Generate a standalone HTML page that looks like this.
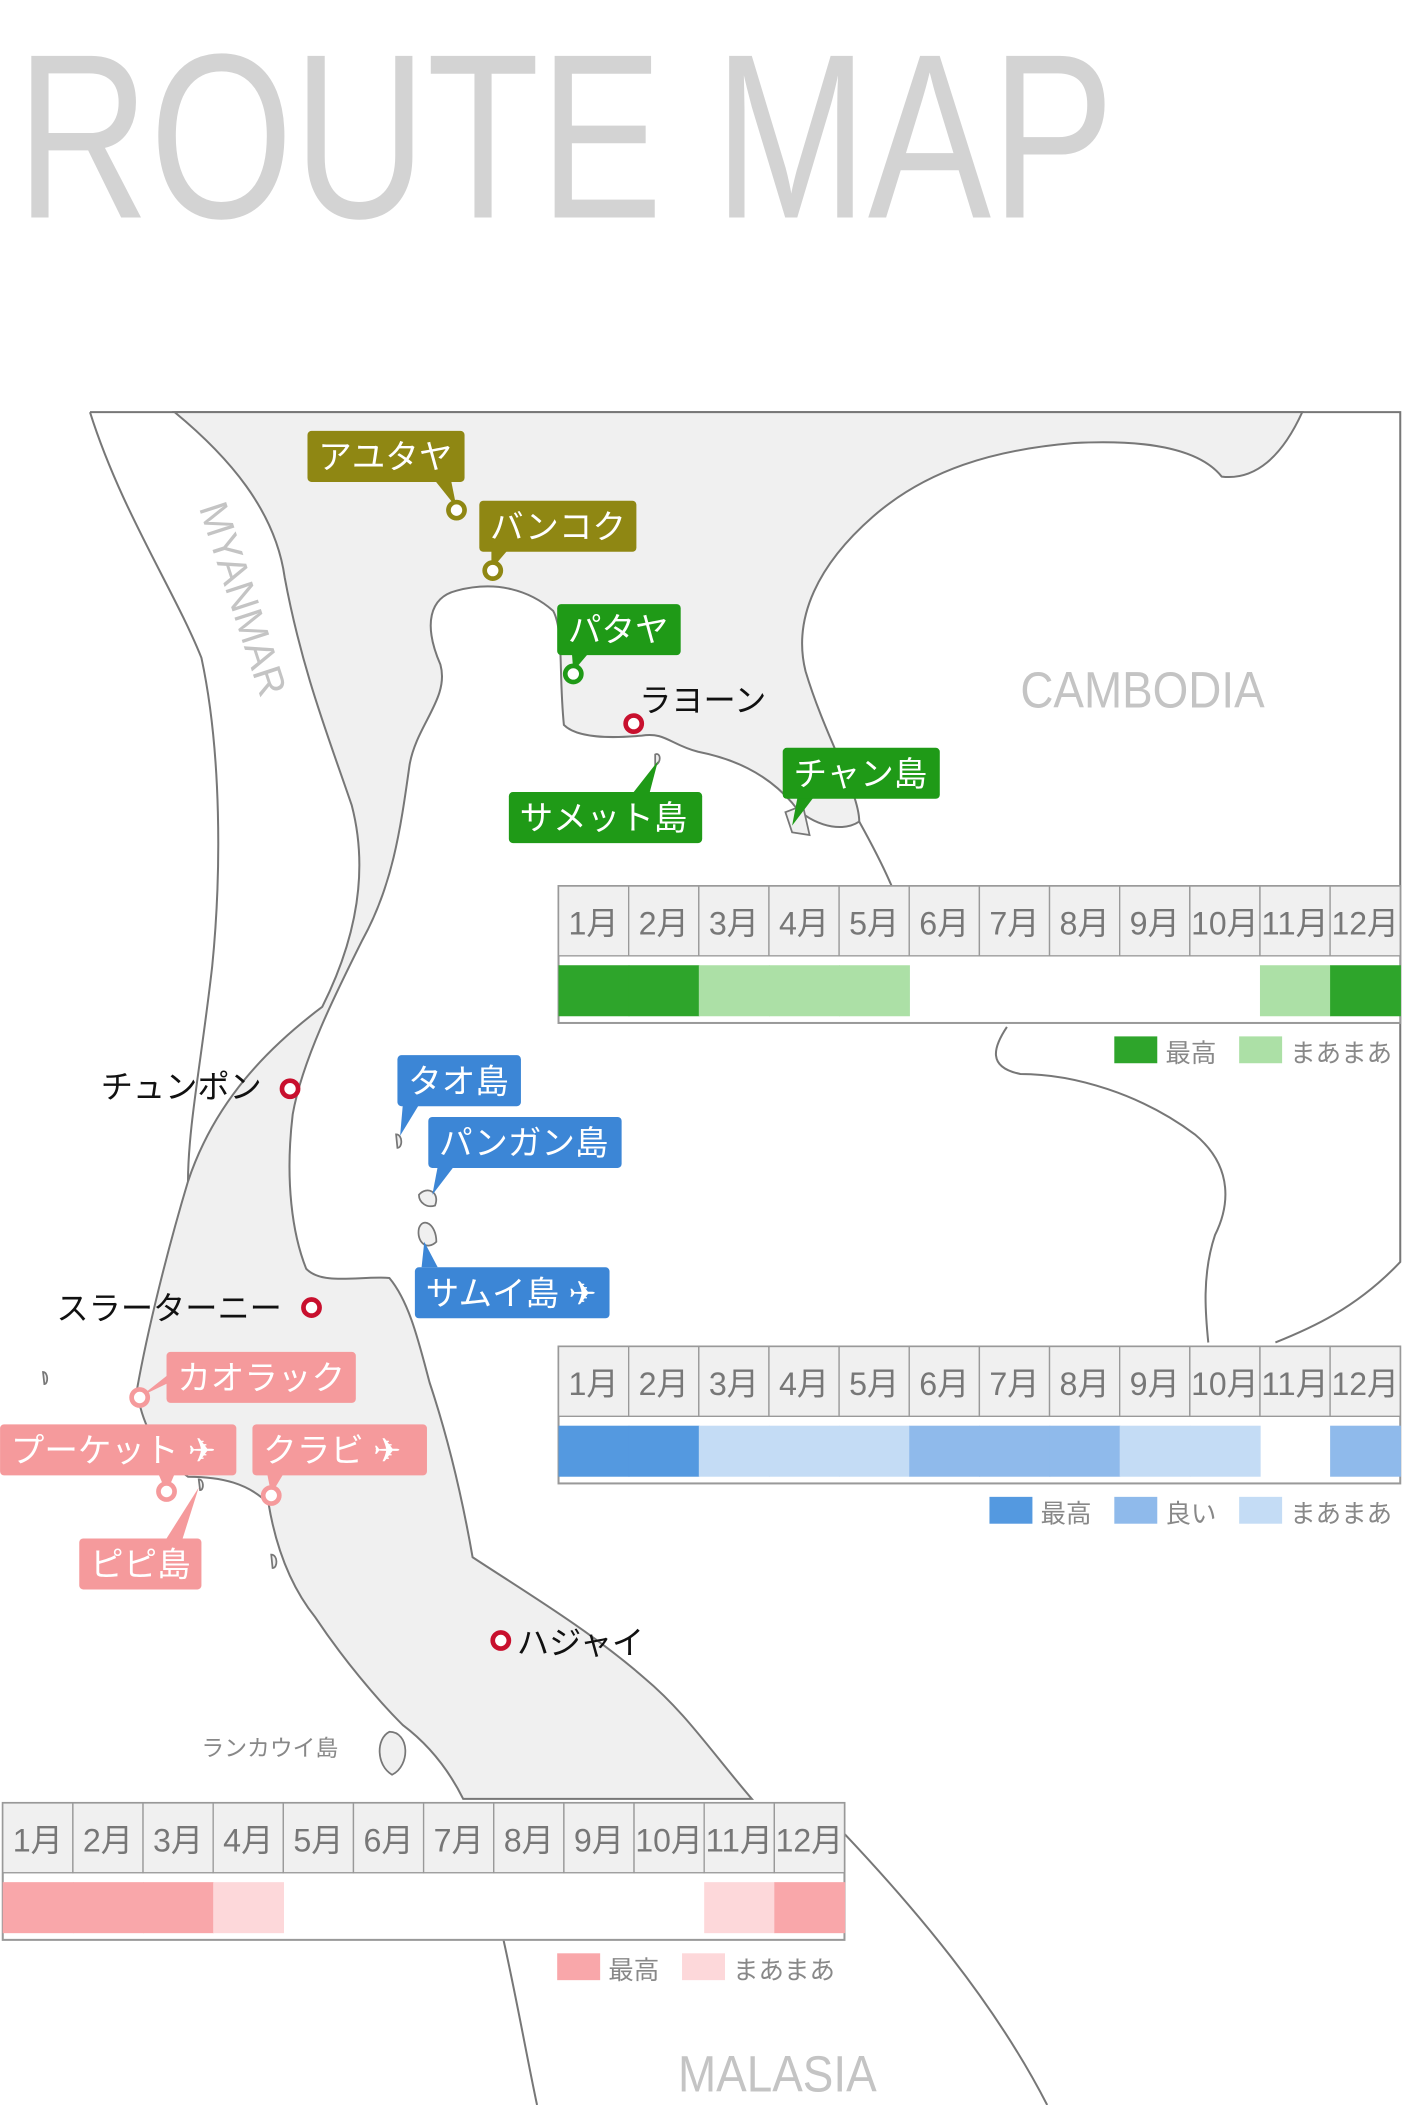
<!DOCTYPE html>
<html><head><meta charset="utf-8"><style>
html,body{margin:0;padding:0;background:#fff}
svg{display:block}
text{font-family:"Liberation Sans","Noto Sans CJK JP",sans-serif}
</style></head><body>
<svg id="map" width="1403" height="2105" viewBox="0 0 1045 1568" xmlns="http://www.w3.org/2000/svg">
<text x="12" y="162" font-size="175" fill="#d3d3d3" textLength="818" lengthAdjust="spacingAndGlyphs">ROUTE MAP</text>

<g fill="none" stroke="#777" stroke-width="1.5">
<path d="M67,307 L1043,307 L1043,940 C1010,975 975,990 950,1000"/>
<path d="M67,307 C90,380 130,440 150,490 C165,560 165,650 158,720 C150,790 140,840 140,880"/>
</g>
<path fill="#f0f0f0" stroke="#777" stroke-width="1.5" d="M130,307 L970,307 C955,340 935,358 910,355 C890,330 840,328 800,330 C740,335 690,350 650,385 C610,420 590,460 600,500 C615,550 640,590 640,612 C625,622 600,612 590,598 C570,575 545,565 520,560 C500,555 495,545 478,548 C455,550 430,550 420,540 C416,500 420,470 412,455 C395,440 370,432 340,440 C320,445 315,465 328,495 C335,520 310,540 305,570 C298,620 292,660 270,700 C250,740 225,790 218,830 C212,880 218,920 228,945 C240,958 270,950 290,952 C305,970 312,1000 320,1030 C335,1075 345,1120 352,1160 C390,1185 440,1215 480,1250 C510,1275 530,1305 560,1340 L345,1340 C335,1320 320,1300 300,1285 C280,1265 255,1235 235,1205 C215,1180 205,1150 200,1120 C185,1105 165,1100 140,1100 C118,1085 105,1060 102,1035 C110,990 125,930 140,880 C160,820 200,780 240,750 C265,700 275,650 262,600 C245,550 225,500 212,430 C205,380 170,340 130,307 Z"/>
<g fill="none" stroke="#777" stroke-width="1.5">
<path d="M640,612 C650,630 660,650 665,662"/>
<path d="M750,765 C740,780 735,795 760,800 C800,800 850,815 890,845 C920,870 915,900 905,920 C895,950 898,980 900,1000"/>
<path d="M375,1445 C385,1490 392,1530 400,1568"/>
<path d="M628,1365 C680,1420 740,1490 780,1568"/>
</g>
<g fill="#f0f0f0" stroke="#777" stroke-width="1.3">
<path d="M585,605 L598,600 L603,622 L590,620 Z"/>
<path d="M488,562 C492,560 493,568 488,570 Z"/>
<path d="M295,845 C300,845 300,855 296,855 Z"/>
<path d="M312,890 C318,883 328,888 324,898 C318,900 312,896 312,890 Z"/>
<path d="M312,915 C315,906 325,912 325,925 C318,932 310,925 312,915 Z"/>
<path d="M290,1290 C305,1290 306,1315 292,1322 C280,1315 280,1295 290,1290 Z"/>
<path d="M32,1022 C36,1022 36,1031 33,1031 Z"/>
<path d="M202,1158 C207,1158 207,1168 203,1168 Z"/>
<path d="M148,1102 C152,1102 152,1110 149,1110 Z"/>
</g>
<text transform="translate(148,378) rotate(72)" font-size="30" fill="#c4c4c4" textLength="150" lengthAdjust="spacingAndGlyphs">MYANMAR</text>
<text x="760" y="527" font-size="38" fill="#c4c4c4" textLength="182" lengthAdjust="spacingAndGlyphs">CAMBODIA</text>
<text x="505" y="1558" font-size="38" fill="#c4c4c4" textLength="148" lengthAdjust="spacingAndGlyphs">MALASIA</text>

<g id="labels"></g>
<g id="charts"></g>
</svg>
<script>
const months = ['1月','2月','3月','4月','5月','6月','7月','8月','9月','10月','11月','12月'];
const eastLevels = [2,2,1,1,1,0,0,0,0,0,1,2];
const gulfLevels = [3,3,1,1,1,2,2,2,1,1,0,2];
const andamanLevels = [2,2,2,1,0,0,0,0,0,0,1,2];
const eastColors = ['none','#ace0a6','#2ea52b'];
const gulfColors = ['none','#c4dcf5','#8fbaeb','#5499e0'];
const andamanColors = ['none','#fdd8da','#f9a7aa'];
const eastLegend = ['最高','まあまあ'];
const gulfLegend = ['最高','良い','まあまあ'];
const andamanLegend = ['最高','まあまあ'];

const NS='http://www.w3.org/2000/svg';
function mk(tag,attrs,parent){const e=document.createElementNS(NS,tag);for(const k in attrs)e.setAttribute(k,attrs[k]);parent.appendChild(e);return e;}
const charts=document.getElementById('charts');
function chart(name,x0,y0,levels,colors,legend,legendCols,legendRight){
  const g=mk('g',{},charts);
  
  
  const W=627,cw=W/12;
  mk('rect',{x:x0,y:y0,width:W,height:102,fill:'#fff',stroke:'#999','stroke-width':1.5},g);
  const xs=i=>x0+i*cw;
  months.forEach((m,i)=>{
    const c=mk('rect',{x:xs(i),y:y0,width:cw,height:52,fill:'#f0f0f0',stroke:'#999','stroke-width':1},g);
    
    
    const t=mk('text',{x:xs(i)+cw/2,y:y0+36,'text-anchor':'middle','font-size':24,fill:'#777'},g);
    
    
    t.textContent=m;
    if(m.length>2){t.setAttribute('textLength',cw-2);t.setAttribute('lengthAdjust','spacingAndGlyphs');}
    const lv=levels[i];
    if(lv>0){
      const b=mk('rect',{x:xs(i),y:y0+59,width:cw+0.5,height:38,fill:colors[lv]},g);
      
      
    }
  });
  // legend
  let lx=legendRight;
  for(let k=legend.length-1;k>=0;k--){
    const tw=legend[k].length*20;
    lx-=tw;
    const t=mk('text',{x:lx,y:y0+131,'font-size':19,fill:'#888'},g);
    
    
    t.textContent=legend[k];
    lx-=38;
    const s=mk('rect',{x:lx,y:y0+112,width:32,height:20,fill:legendCols[k]},g);
    
    
    lx-=15;
  }
}
chart('east-coast-chart',416,660,eastLevels,eastColors,eastLegend,[eastColors[2],eastColors[1]],1041);
chart('gulf-chart',416,1003,gulfLevels,gulfColors,gulfLegend,[gulfColors[3],gulfColors[2],gulfColors[1]],1041);
chart('andaman-chart',2,1343,andamanLevels,andamanColors,andamanLegend,[andamanColors[2],andamanColors[1]],626);

const L=document.getElementById('labels');
const olive='#8f8713',green='#1f9a17',blue='#3c86d6',pink='#f59a9c';
// [text,x,y,w,color,tailFrom,tailTo]
function label(name,text,x,y,w,col,tx1,ty1,tx2,ty2){
  const g=mk('g',{},L);
  
  
  mk('polygon',{points:`${tx1-6},${ty1} ${tx1+6},${ty1} ${tx2},${ty2}`,fill:col},g);
  mk('rect',{x:x,y:y,width:w,height:38,rx:3,fill:col},g);
  const t=mk('text',{x:x+8,y:y+28,'font-size':25,fill:'#fff'},g);
  t.textContent=text;
}
function dot(x,y,col,name){
  const c=mk('circle',{cx:x,cy:y,r:6,fill:'#fff',stroke:col,'stroke-width':3.5},L);
  
  
}
function plain(name,text,x,y,size,col){
  const t=mk('text',{x:x,y:y,'font-size':size,fill:col},L);
  
  
  t.textContent=text;
}
label('ayutthaya-label','アユタヤ',229,321,117,olive,330,358,340,378);dot(340,380,olive,'ayutthaya-marker');
label('bangkok-label','バンコク',357,373,117,olive,372,410,366,424);dot(367,425,olive,'bangkok-marker');
label('pattaya-label','パタヤ',415,450,92,green,432,487,427,500);dot(427,502,green,'pattaya-marker');
dot(472,539,'#c8102e','rayong-marker');plain('rayong-label','ラヨーン',476,530,24,'#111');
label('samet-label','サメット島',379,590,144,green,478,590,490,567);
label('chang-label','チャン島',583,557,117,green,600,594,590,615);
plain('chumphon-label','チュンポン',75,818,24,'#111');dot(216,811,'#c8102e','chumphon-marker');
label('koh-tao-label','タオ島',296,786,92,blue,306,823,298,846);
label('phangan-label','パンガン島',319,832,144,blue,332,869,322,890);
label('samui-label','サムイ島 ✈',309,944,145,blue,320,944,316,925);
plain('surat-label','スラーターニー',42,983,24,'#111');dot(232,974,'#c8102e','surat-marker');
label('khao-lak-label','カオラック',124,1007,141,pink,130,1025,105,1040);dot(104,1041,pink,'khao-lak-marker');
label('phuket-label','プーケット ✈',0,1061,176,pink,124,1098,124,1112);dot(124,1111,pink,'phuket-marker');
label('krabi-label','クラビ ✈',188,1061,130,pink,205,1098,202,1113);dot(202,1114,pink,'krabi-marker');
label('phi-phi-label','ピピ島',59,1146,91,pink,130,1146,148,1108);
dot(373,1222,'#c8102e','hat-yai-marker');plain('hat-yai-label','ハジャイ',385,1232,24,'#111');
plain('langkawi-label','ランカウイ島',150,1308,17,'#888');
</script>
</body></html>
